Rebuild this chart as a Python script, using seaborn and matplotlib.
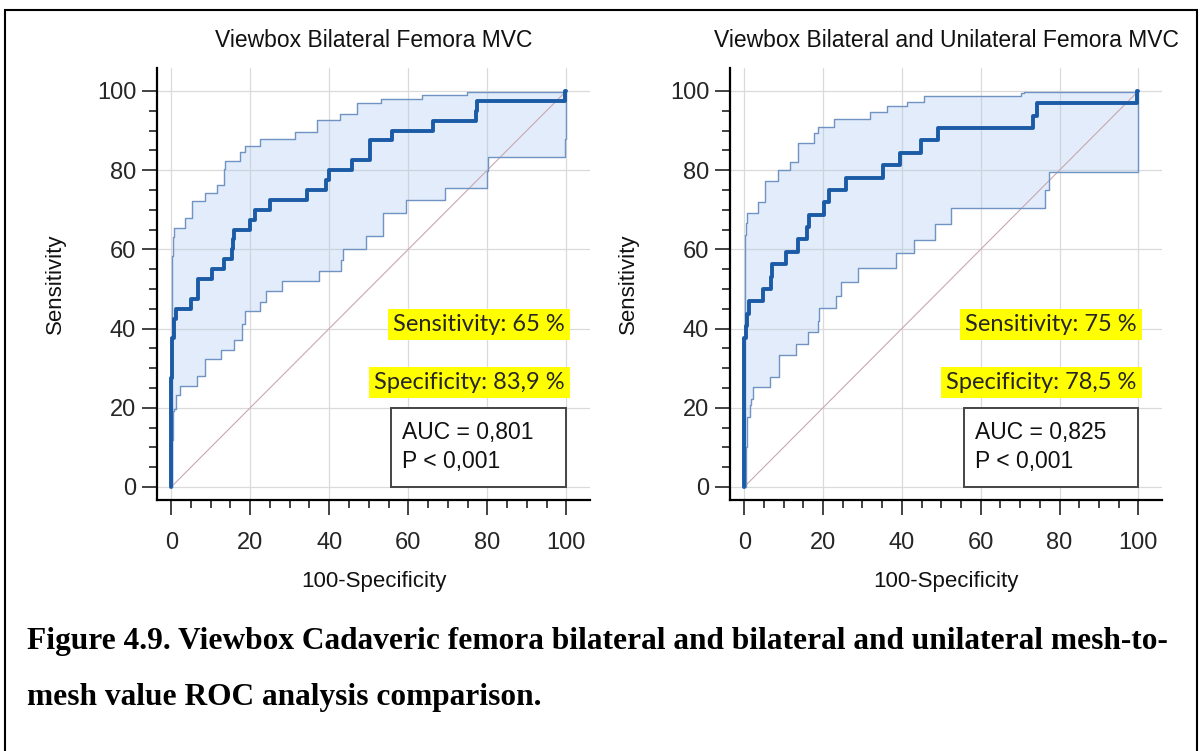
import numpy as np
import matplotlib
matplotlib.use("Agg")
import matplotlib.pyplot as plt
import seaborn as sns
import pandas as pd
from matplotlib.patches import Rectangle

sns.set_theme(style="white")
plt.rcParams['font.family'] = ['Liberation Sans', 'DejaVu Sans']

# ---------------- data (100-Specificity, Sensitivity) ----------------
left_title = "Viewbox Bilateral Femora MVC"
right_title = "Viewbox Bilateral and Unilateral Femora MVC"

left_roc_x = [0, 0, 0.3, 0.6, 1.2, 5.0, 6.7, 6.9, 10.3, 13.4, 15.4, 15.7, 16.0, 20.0, 21.2, 24.9,
              34.3, 39.3, 40.0, 45.7, 50.3, 56.0, 66.3, 77.1, 77.5, 99.6, 100]
left_roc_y = [0, 27.5, 37.5, 42.5, 45, 47.5, 50, 52.5, 55, 57.5, 60, 62.5, 65, 67.5, 70, 72.5,
              75, 77.5, 80, 82.5, 87.5, 90, 92.5, 95, 97.5, 100, 100]
left_up_x = [0, 0.2, 0.4, 0.6, 3.5, 5.2, 8.6, 11.5, 13.3, 13.6, 17.5, 18.7, 22.5, 31.3, 36.8,
             42.7, 47.1, 53.0, 63.4, 74.8, 100]
left_up_y = [0, 58.4, 63, 65.5, 67.8, 72.1, 74.3, 76.2, 80.3, 82.4, 84.5, 86.1, 87.8, 89.7, 92.6,
             94.3, 96.9, 97.9, 99, 99.8, 99.8]
left_lo_x = [0, 0.25, 0.4, 0.8, 1.3, 2.1, 6.5, 8.6, 12.6, 15.8, 17.9, 18.7, 22.5, 23.9, 28.1,
             37.5, 42.9, 43.4, 49.3, 53.5, 59.4, 69.2, 80.0, 80.2, 99.6, 100]
left_lo_y = [0, 11.8, 19.3, 19.7, 23.1, 25.6, 27.9, 32.4, 34.6, 37.0, 41.2, 44.4, 46.6, 49.6, 51.9,
             54.6, 57.3, 60.1, 63.4, 69.1, 72.4, 75.6, 79.8, 83.4, 87.8, 100]

right_roc_x = [0, 0, 0.4, 0.8, 1.3, 4.7, 6.8, 7.0, 10.6, 13.7, 16.0, 16.5, 20.3, 21.6, 25.8,
               35.2, 39.6, 44.9, 49.1, 73.2, 74.3, 99.6, 100]
right_roc_y = [0, 37.5, 40.6, 43.75, 46.9, 50, 53.1, 56.25, 59.4, 62.5, 65.6, 68.75, 71.9, 75, 78.1,
               81.25, 84.4, 87.5, 90.6, 93.75, 96.9, 100, 100]
right_up_x = [0, 0.2, 0.4, 0.6, 3.5, 5.2, 8.6, 11.6, 13.7, 17.7, 18.8, 22.8, 31.9, 36.2, 41.3,
              45.7, 70.3, 71.0, 100]
right_up_y = [0, 63.6, 66.6, 69.3, 72, 77.3, 80, 82.1, 86.9, 89.3, 90.8, 92.8, 94.6, 96.3, 97.3,
              98.7, 99.4, 99.8, 99.8]
right_lo_x = [0, 0.4, 0.6, 1.4, 1.8, 2.3, 6.5, 8.9, 13.1, 16.3, 18.6, 19.1, 23.3, 24.5, 28.8,
              38.6, 43.0, 48.5, 52.5, 76.4, 77.3, 100]
right_lo_y = [0, 10.1, 17.7, 20.6, 22.3, 25.3, 27.8, 33.3, 36.2, 39.2, 42.0, 45.1, 48.2, 51.8, 55.2,
              59.0, 62.3, 66.4, 70.5, 75.0, 79.6, 100]

left_sens, left_spec = "Sensitivity: 65 %", "Specificity: 83,9 %"
right_sens, right_spec = "Sensitivity: 75 %", "Specificity: 78,5 %"
left_auc, right_auc = "AUC = 0,801", "AUC = 0,825"
p_text = "P < 0,001"
ticks = [0, 20, 40, 60, 80, 100]
caption1 = "Figure 4.9. Viewbox Cadaveric femora bilateral and bilateral and unilateral mesh-to-"
caption2 = "mesh value ROC analysis comparison."

# ---------------- helpers ----------------
def step_path(x, y):
    xs, ys = [x[0]], [y[0]]
    for i in range(1, len(x)):
        xs += [x[i], x[i]]
        ys += [y[i - 1], y[i]]
    return np.array(xs), np.array(ys)

W, H = 1203, 751
fig = plt.figure(figsize=(W / 100, H / 100), dpi=100)
fig.patch.set_facecolor("white")

MAIN = "#1b5ba6"
CI = "#6f93c2"
FILL = "#a8c8f0"
DIAG = "#c9a8b0"

def draw(ax, title, rx, ry, ux, uy, lx, ly, sens, spec, auc):
    ax.set_facecolor("white")
    ax.set_xlim(-3.6, 106)
    ax.set_ylim(-3.3, 105.8)
    ax.set_axisbelow(True)
    ax.set_xticks(ticks)
    ax.set_yticks(ticks)
    ax.set_xticks(np.arange(0, 101, 5), minor=True)
    ax.set_yticks(np.arange(0, 101, 5), minor=True)
    ax.grid(True, which="major", color="#dadada", lw=0.9)
    for s in ["top", "right"]:
        ax.spines[s].set_visible(False)
    for s in ["left", "bottom"]:
        ax.spines[s].set_color("black")
        ax.spines[s].set_linewidth(1.6)
    ax.tick_params(which="major", direction="out", length=11, width=1.2, color="#222222",
                   labelsize=17, pad=4, left=True, bottom=True)
    ax.tick_params(which="minor", direction="out", length=5.5, width=1.2, color="#222222",
                   left=True, bottom=True)
    ax.tick_params(axis="x", which="major", pad=12)

    # fill CI band
    uxs, uys = step_path(ux, uy)
    lxs, lys = step_path(lx, ly)
    ax.fill(np.concatenate([uxs, lxs[::-1]]), np.concatenate([uys, lys[::-1]]),
            color=FILL, alpha=0.33, lw=0, zorder=1)
    # diagonal
    sns.lineplot(x=[0, 100], y=[0, 100], ax=ax, color=DIAG, lw=0.8, zorder=2,
                 estimator=None, sort=False)
    # CI lines
    for xx, yy in [(ux, uy), (lx, ly)]:
        sns.lineplot(x=xx, y=yy, ax=ax, color=CI, lw=1.0, drawstyle="steps-post",
                     estimator=None, sort=False, zorder=3)
    # main curve
    sns.lineplot(x=rx, y=ry, ax=ax, color=MAIN, lw=2.8, drawstyle="steps-post",
                 estimator=None, sort=False, zorder=4)

    ax.set_title(title, fontsize=16.5, pad=15, color="#111111")
    ax.set_xlabel("100-Specificity", fontsize=16, labelpad=12, color="#111111")
    ax.set_ylabel("Sensitivity", fontsize=16, labelpad=22, color="#111111")

    hl = dict(facecolor="#ffff00", edgecolor="none", pad=3.5)
    ax.text(99.6, 41, sens, ha="right", va="center", fontsize=17, family=["Lato", "DejaVu Sans"],
            bbox=hl, zorder=6)
    ax.text(99.6, 26.3, spec, ha="right", va="center", fontsize=17, family=["Lato", "DejaVu Sans"],
            bbox=hl, zorder=6)
    ax.add_patch(Rectangle((55.7, 0), 44.3, 20, facecolor="white", edgecolor="#444444",
                           lw=1.4, zorder=5))
    ax.text(58.5, 13.8, auc, ha="left", va="center", fontsize=16.5, zorder=6, color="#111111")
    ax.text(58.5, 6.3, p_text, ha="left", va="center", fontsize=16.5, zorder=6, color="#111111")

ax1 = fig.add_axes([157 / W, 1 - 500 / H, 433 / W, 432 / H])
ax2 = fig.add_axes([730 / W, 1 - 500 / H, 432 / W, 432 / H])
draw(ax1, left_title, left_roc_x, left_roc_y, left_up_x, left_up_y, left_lo_x, left_lo_y,
     left_sens, left_spec, left_auc)
draw(ax2, right_title, right_roc_x, right_roc_y, right_up_x, right_up_y, right_lo_x, right_lo_y,
     right_sens, right_spec, right_auc)

fig.text(27 / W, 1 - 642 / H, caption1, ha="left", va="center", fontsize=22.6, fontweight="bold",
         family=["Liberation Serif", "DejaVu Serif"], color="black")
fig.text(27 / W, 1 - 697 / H, caption2, ha="left", va="center", fontsize=22.6, fontweight="bold",
         family=["Liberation Serif", "DejaVu Serif"], color="black")

fig.patches.append(Rectangle((5 / W, -0.01), 1192 / W, 1 - 10 / H + 0.01, transform=fig.transFigure,
                             fill=False, edgecolor="black", lw=1.5, figure=fig))

fig.savefig("out.png", dpi=100)
